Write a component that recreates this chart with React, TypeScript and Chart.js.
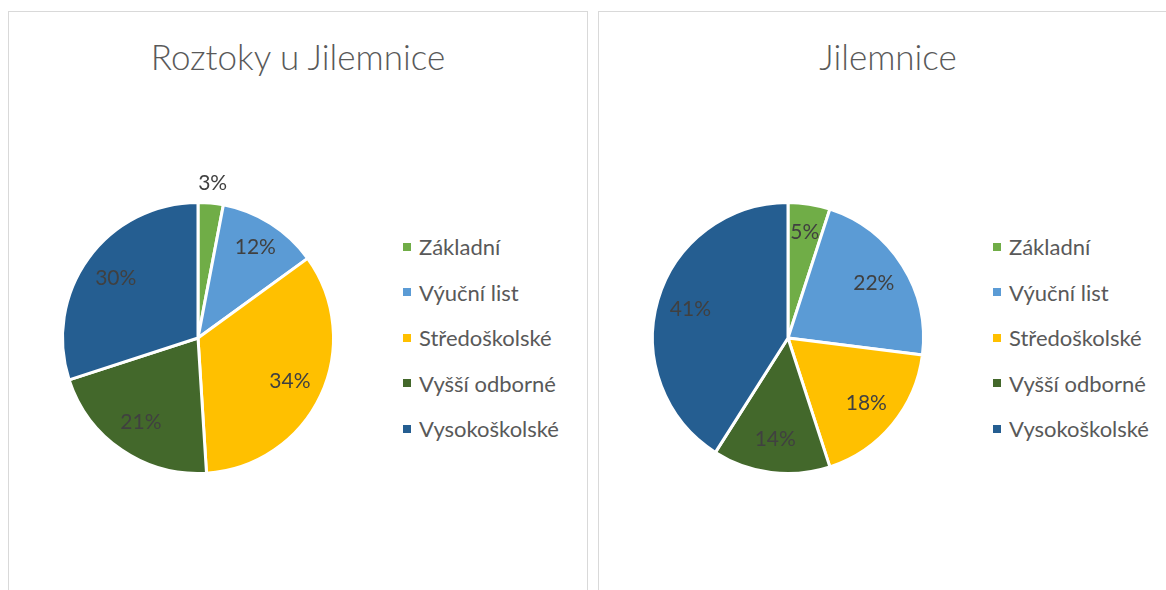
import React, { useEffect, useRef } from "react";
import { Chart, registerables } from "chart.js";

Chart.register(...registerables);

const categories = ["Základní", "Výuční list", "Středoškolské", "Vyšší odborné", "Vysokoškolské"];
const roztokyValues = [3, 12, 34, 21, 30];
const jilemniceValues = [5, 22, 18, 14, 41];
const panelTitles = ["Roztoky u Jilemnice", "Jilemnice"];
const sliceColors = ["#70AD47", "#5B9BD5", "#FFC000", "#43682B", "#255E91"];

const FONT = "Lato, 'Open Sans', sans-serif";

const sliceLabelPlugin = {
  id: "sliceLabels",
  afterDatasetsDraw(chart: any) {
    const { ctx } = chart;
    const meta = chart.getDatasetMeta(0);
    const data = chart.data.datasets[0].data as number[];
    const total = data.reduce((a: number, b: number) => a + b, 0);
    ctx.save();
    ctx.font = `21px ${FONT}`;
    ctx.fillStyle = "#404040";
    ctx.textAlign = "center";
    ctx.textBaseline = "middle";
    meta.data.forEach((arc: any, i: number) => {
      const { x, y, startAngle, endAngle, outerRadius } = arc.getProps(
        ["x", "y", "startAngle", "endAngle", "outerRadius"],
        true
      );
      const mid = (startAngle + endAngle) / 2;
      const pct = (data[i] / total) * 100;
      let r = outerRadius * 0.75;
      if (pct < 4) r = outerRadius + 20;
      else if (pct <= 14) r = outerRadius * 0.79;
      ctx.fillText(`${Math.round(pct)}%`, x + Math.cos(mid) * r, y + Math.sin(mid) * r);
    });
    ctx.restore();
  },
};

function PiePanel({ left, title, values }: { left: number; title: string; values: number[] }) {
  const canvasRef = useRef<HTMLCanvasElement | null>(null);

  useEffect(() => {
    if (!canvasRef.current) return;
    const chart = new Chart(canvasRef.current, {
      type: "pie",
      data: {
        labels: categories,
        datasets: [
          {
            data: values,
            backgroundColor: sliceColors,
            borderColor: "#ffffff",
            borderWidth: 3,
          },
        ],
      },
      options: {
        animation: false,
        responsive: false,
        maintainAspectRatio: false,
        layout: { padding: 43 },
        plugins: {
          legend: { display: false },
          title: { display: false },
          tooltip: { enabled: false },
        },
      },
      plugins: [sliceLabelPlugin],
    });
    return () => chart.destroy();
  }, [values]);

  return (
    <div
      style={{
        position: "absolute",
        left,
        top: 11,
        width: 580,
        height: 620,
        border: "1px solid #d9d9d9",
        boxSizing: "border-box",
        background: "#ffffff",
      }}
    >
      <div
        style={{
          position: "absolute",
          left: 0,
          right: 0,
          top: 22,
          height: 44,
          lineHeight: "44px",
          textAlign: "center",
          fontFamily: FONT,
          fontSize: 35,
          fontWeight: 300,
          color: "#595959",
          whiteSpace: "nowrap",
        }}
      >
        {title}
      </div>
      <canvas
        ref={canvasRef}
        width={360}
        height={360}
        style={{ position: "absolute", left: 9, top: 146, width: 360, height: 360 }}
      />
      <div style={{ position: "absolute", left: 394, top: 212 }}>
        {categories.map((c, i) => (
          <div
            key={c}
            style={{
              height: 45.5,
              display: "flex",
              alignItems: "center",
              fontFamily: FONT,
              fontSize: 22,
              color: "#595959",
              whiteSpace: "nowrap",
            }}
          >
            <span
              style={{
                display: "inline-block",
                width: 8,
                height: 8,
                background: sliceColors[i],
                marginRight: 8,
              }}
            />
            {c}
          </div>
        ))}
      </div>
    </div>
  );
}

export default function App() {
  return (
    <div style={{ position: "absolute", left: 0, top: 0, width: 1166, height: 590, overflow: "hidden", background: "#fff" }}>
      <PiePanel left={8} title={panelTitles[0]} values={roztokyValues} />
      <PiePanel left={598} title={panelTitles[1]} values={jilemniceValues} />
    </div>
  );
}
